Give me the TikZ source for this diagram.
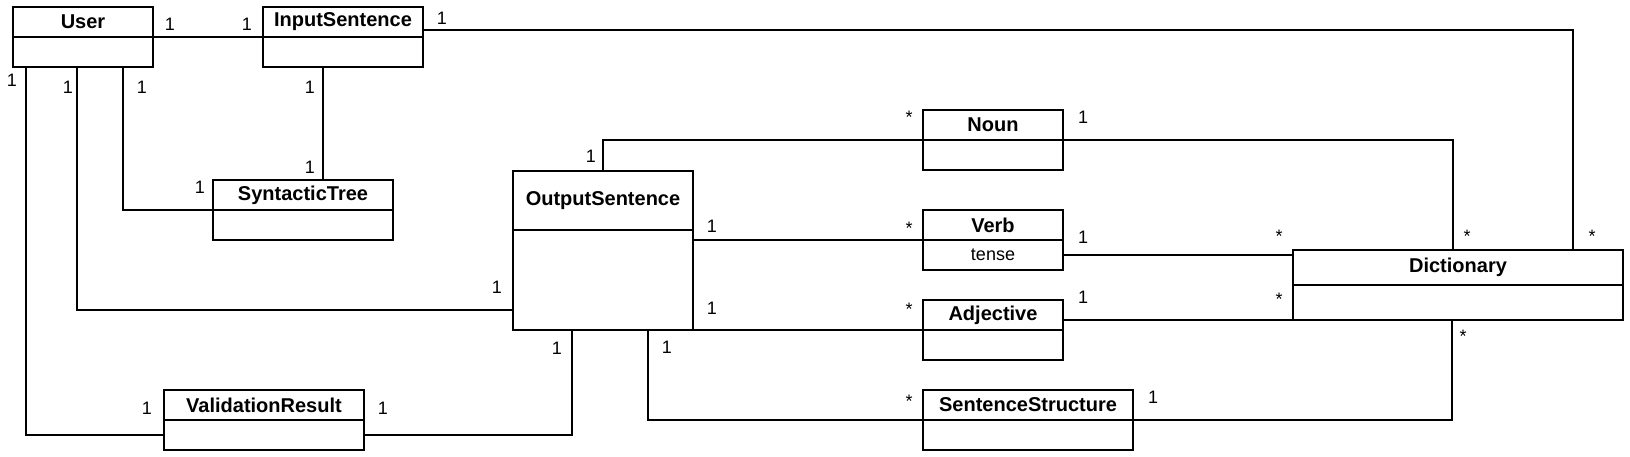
\documentclass[tikz,border=0pt]{standalone}
\usepackage{fontspec}
\setmainfont{Liberation Sans}
\usepackage{tikz}
\usetikzlibrary{positioning}
\tikzset{
classhead/.style={
  draw, rectangle, anchor=north west,
  inner sep=0pt, outer sep=0pt,
  font=\bfseries\fontsize{10}{12}\selectfont
},
classbody/.style={
  draw, rectangle,
  inner sep=0pt, outer sep=0pt,
  font=\fontsize{9}{11}\selectfont
},
mult/.style={inner sep=0pt, font=\fontsize{9}{11}\selectfont},
many/.style={mult, yshift=-2pt},
}

\begin{document}
\begin{tikzpicture}[x=0.5pt,y=-0.5pt,line width=0.6pt]
\useasboundingbox (0,0) rectangle (1630,456);
% the classes
\node[classhead, minimum width=70pt, minimum height=15pt] (user) at (13,7) {User};
\node[classbody, minimum width=70pt, minimum height=15pt, below=0pt of user] (user-b) {};
\node[classhead, minimum width=80pt, minimum height=15pt] (inp) at (263,7) {InputSentence};
\node[classbody, minimum width=80pt, minimum height=15pt, below=0pt of inp] (inp-b) {};
\node[classhead, minimum width=90pt, minimum height=15pt] (syn) at (213,180) {SyntacticTree};
\node[classbody, minimum width=90pt, minimum height=15pt, below=0pt of syn] (syn-b) {};
\node[classhead, minimum width=90pt, minimum height=29.5pt] (out) at (513,171) {OutputSentence};
\node[classbody, minimum width=90pt, minimum height=50pt, below=0pt of out] (out-b) {};
\node[classhead, minimum width=70pt, minimum height=15pt] (noun) at (923,110) {Noun};
\node[classbody, minimum width=70pt, minimum height=15pt, below=0pt of noun] (noun-b) {};
\node[classhead, minimum width=70pt, minimum height=15pt] (verb) at (923,210) {Verb};
\node[classbody, minimum width=70pt, minimum height=15pt, below=0pt of verb] (verb-b) {tense};
\node[classhead, minimum width=70pt, minimum height=15pt] (adj) at (923,300) {Adjective};
\node[classbody, minimum width=70pt, minimum height=15pt, below=0pt of adj] (adj-b) {};
\node[classhead, minimum width=105pt, minimum height=15pt] (sen) at (923,390) {SentenceStructure};
\node[classbody, minimum width=105pt, minimum height=15pt, below=0pt of sen] (sen-b) {};
\node[classhead, minimum width=100pt, minimum height=15pt] (val) at (164,390) {ValidationResult};
\node[classbody, minimum width=100pt, minimum height=15pt, below=0pt of val] (val-b) {};
\node[classhead, minimum width=165pt, minimum height=17.5pt] (dict) at (1293,250) {Dictionary};
\node[classbody, minimum width=165pt, minimum height=17.5pt, below=0pt of dict] (dict-b) {};
% the associations
\draw (user.south east) -- (inp.south west);
\draw ([yshift=-4pt]inp.east) -| ([xshift=-25pt]dict.north east);
\draw ([xshift=-10pt]inp-b.south) -- ([xshift=10pt]syn.north);
\draw ([xshift=20pt]user-b.south) |- (syn.south west);
\draw ([xshift=-3pt]user-b.south) |- ([yshift=-15pt]out-b.west);
\draw ([xshift=6.5pt]user-b.south west) |- (val-b.west);
\draw (val-b.east) -| ([xshift=-15.5pt]out-b.south);
\draw (out.north) |- (noun.south west);
\draw (out-b.east |- verb.south west) -- (verb.south west);
\draw (out-b.south east) -- (adj.south west);
\draw ([xshift=22.5pt]out-b.south) |- (sen.south west);
\draw (noun.south east) -| ([xshift=-2.5pt]dict.north);
\draw (verb-b.east) -- (verb-b.east -| dict.west);
\draw (adj.east |- dict-b.south west) -- (dict-b.south west);
\draw (sen-b.north east) -| ([xshift=-3pt]dict-b.south);
% the multiplicities
\foreach \x/\y [count=\i] in {170/24, 247/24, 442/18, 12/80, 68/87, 142/87,
  310/87, 310/167, 200/187, 497/287, 591/156, 712/226, 712/308, 557/348,
  667/347, 147/408, 383/408, 1083/117, 1083/237, 1083/297, 1153/397}
  \node[mult] (one\i) at (\x,\y) {1};
\foreach \x/\y [count=\i] in {909/113, 909/224, 909/305, 909/397, 1279/232,
  1279/295, 1467/232, 1592/232, 1463/332}
  \node[many] (star\i) at (\x,\y) {*};
\end{tikzpicture}
\end{document}
